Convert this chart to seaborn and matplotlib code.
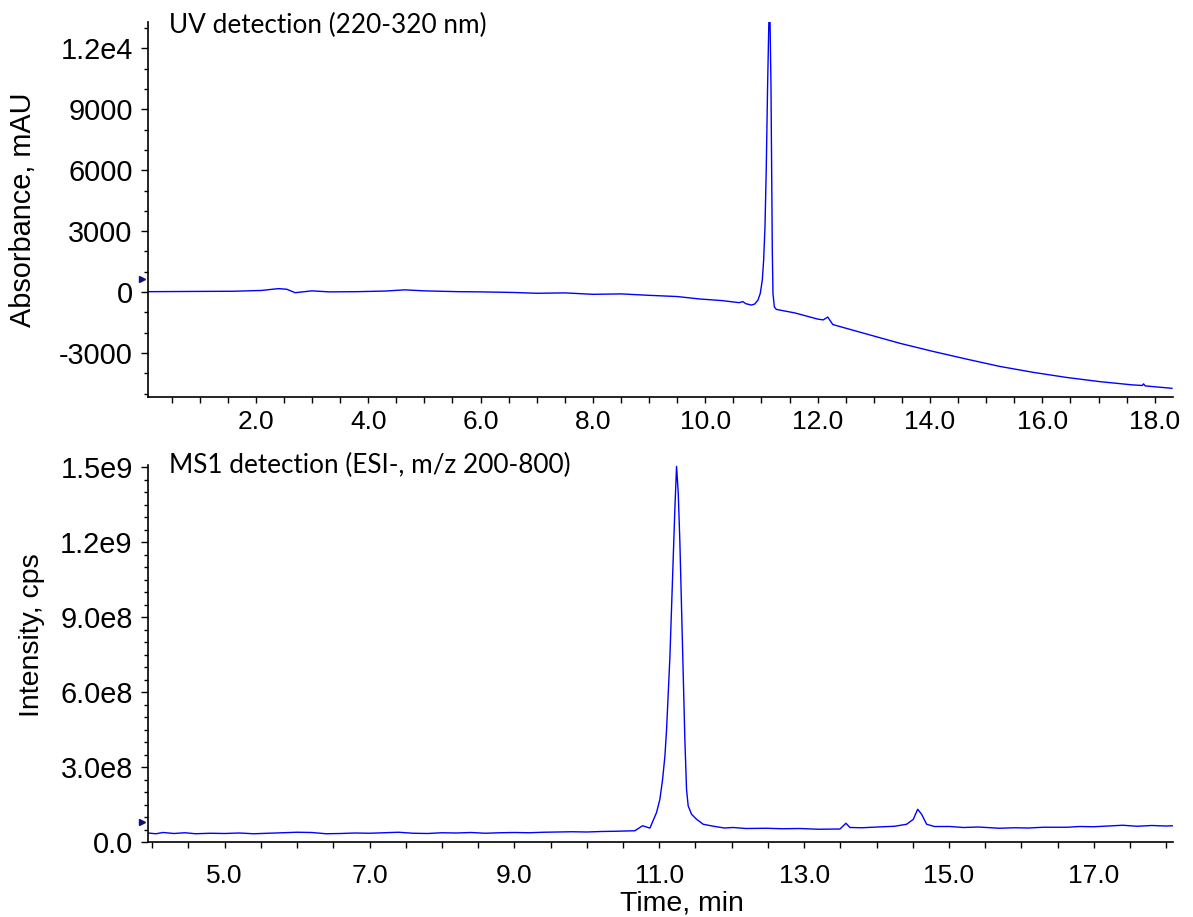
import numpy as np
import pandas as pd
import matplotlib
matplotlib.use("Agg")
import matplotlib.pyplot as plt
from matplotlib.ticker import FixedLocator, MultipleLocator
import seaborn as sns

sns.set_theme(style="ticks")
plt.rcParams["font.family"] = ["Liberation Sans", "DejaVu Sans"]
plt.rcParams["axes.unicode_minus"] = False
plt.rcParams["text.color"] = "black"
plt.rcParams["axes.labelcolor"] = "black"
plt.rcParams["xtick.color"] = "black"
plt.rcParams["ytick.color"] = "black"

# =====================================
# DATA
# =====================================
# UV trace: time (min) vs absorbance (mAU)
uv_time = [0.08, 0.8, 1.6, 2.1, 2.4, 2.55, 2.7, 3.0, 3.3, 3.8, 4.3, 4.65, 5.0,
           5.6, 6.0, 6.6, 7.0, 7.5, 8.0, 8.5, 9.0, 9.5, 9.9, 10.3, 10.6,
           10.67, 10.72, 10.82, 10.879, 10.938, 10.979, 11.015, 11.039,
           11.063, 11.086, 11.11, 11.134, 11.151, 11.169, 11.181, 11.193,
           11.205, 11.229, 11.264, 11.6, 12.0, 12.1, 12.18, 12.27,
           13.46, 14.05, 14.65, 15.24, 15.83, 16.42, 17.02, 17.6, 17.78,
           17.8, 17.83, 18.31]
uv_abs = [20, 30, 40, 80, 170, 140, -30, 60, 10, 20, 50, 110, 60,
          20, 10, -20, -60, -40, -110, -90, -160, -220, -340, -420, -520,
          -470, -570, -640, -590, -390, -66, 590, 1574,
          3215, 6166, 10266, 13600, 13600, 10266, 6166, 2050,
          -66, -722, -853, -1030, -1330, -1370, -1230, -1600,
          -2520, -2920, -3300, -3660, -3950, -4200, -4410, -4570, -4600,
          -4520, -4620, -4740]

# MS1 trace: time (min) vs intensity (cps)
ms_time = [3.94, 4.05, 4.15, 4.3, 4.45, 4.6, 4.8, 5.0, 5.2, 5.4, 5.6, 5.8,
           6.0, 6.2, 6.4, 6.6, 6.8, 7.0, 7.2, 7.4, 7.6, 7.8, 8.0, 8.2, 8.4,
           8.6, 8.8, 9.0, 9.2, 9.4, 9.6, 9.8, 10.0, 10.2, 10.4, 10.663,
           10.77, 10.871, 10.963, 11.009, 11.046, 11.078, 11.101, 11.124,
           11.147, 11.17, 11.193, 11.216, 11.239, 11.262, 11.285, 11.308,
           11.331, 11.354, 11.377, 11.40, 11.446, 11.515, 11.607, 11.75,
           11.9, 12.02, 12.2, 12.48, 12.7, 12.94, 13.2, 13.495, 13.578,
           13.633, 13.8, 14.09, 14.25, 14.416, 14.508, 14.568, 14.623,
           14.692, 14.8, 15.014, 15.2, 15.4, 15.7, 15.9, 16.1, 16.3, 16.63,
           16.8, 17.0, 17.2, 17.4, 17.6, 17.8, 18.0, 18.09]
ms_int = [3.6e7, 3.3e7, 3.8e7, 3.4e7, 3.7e7, 3.3e7, 3.5e7, 3.4e7, 3.6e7,
          3.3e7, 3.5e7, 3.7e7, 3.9e7, 3.8e7, 3.3e7, 3.4e7, 3.6e7, 3.5e7,
          3.7e7, 3.9e7, 3.5e7, 3.4e7, 3.7e7, 3.6e7, 3.8e7, 3.5e7, 3.7e7,
          3.8e7, 3.7e7, 3.9e7, 4.0e7, 4.1e7, 4.0e7, 4.2e7, 4.3e7, 4.5e7,
          6.5e7, 5.56e7, 1.18e8, 1.71e8, 2.50e8, 3.43e8, 4.49e8, 5.94e8,
          7.39e8, 9.38e8, 1.136e9, 1.335e9, 1.504e9, 1.40e9, 1.20e9, 9.38e8,
          6.73e8, 4.09e8, 2.10e8, 1.44e8, 1.11e8, 9.1e7, 7.1e7, 6.3e7,
          5.6e7, 5.8e7, 5.4e7, 5.5e7, 5.3e7, 5.4e7, 5.1e7, 5.2e7, 7.5e7,
          5.8e7, 5.7e7, 6.1e7, 6.3e7, 7.1e7, 9.1e7, 1.31e8, 1.11e8,
          7.1e7, 6.2e7, 6.2e7, 5.8e7, 6.0e7, 5.5e7, 5.7e7, 5.6e7, 5.9e7, 5.9e7,
          6.2e7, 6.1e7, 6.4e7, 6.7e7, 6.3e7, 6.6e7, 6.4e7, 6.5e7]

uv_yticks = [-3000, 0, 3000, 6000, 9000, 12000]
uv_ytick_labels = ["-3000", "0", "3000", "6000", "9000", "1.2e4"]
uv_xticks = [2.0, 4.0, 6.0, 8.0, 10.0, 12.0, 14.0, 16.0, 18.0]

ms_yticks = [0, 3e8, 6e8, 9e8, 1.2e9, 1.5e9]
ms_ytick_labels = ["0.0", "3.0e8", "6.0e8", "9.0e8", "1.2e9", "1.5e9"]
ms_xticks = [5.0, 7.0, 9.0, 11.0, 13.0, 15.0, 17.0]

uv_marker_level = 640
ms_marker_level = 8.0e7

uv = pd.DataFrame({"Time": uv_time, "Absorbance": uv_abs})
ms = pd.DataFrame({"Time": ms_time, "Intensity": ms_int})

# =====================================
# FIGURE
# =====================================
fig = plt.figure(figsize=(11.93, 9.17), dpi=100)
ax1 = fig.add_axes([0.124, 0.567, 0.859, 0.409])
ax2 = fig.add_axes([0.124, 0.0818, 0.859, 0.4112])

line_color = "#0000ff"

sns.lineplot(data=uv, x="Time", y="Absorbance", ax=ax1,
             color=line_color, linewidth=1.0, estimator=None, sort=False)
sns.lineplot(data=ms, x="Time", y="Intensity", ax=ax2,
             color=line_color, linewidth=1.0, estimator=None, sort=False)

ax1.set_xlim(0.08, 18.32)
ax1.set_ylim(-5170, 13300)
ax2.set_xlim(3.94, 18.09)
ax2.set_ylim(0, 1.51e9)

for ax in (ax1, ax2):
    sns.despine(ax=ax)
    ax.spines["left"].set_linewidth(1.2)
    ax.spines["bottom"].set_linewidth(1.2)
    ax.spines["left"].set_color("black")
    ax.spines["bottom"].set_color("black")
    ax.tick_params(axis="both", which="both", direction="out",
                   color="black", width=1.0)
    ax.tick_params(axis="y", which="major", length=5, labelsize=20.8, pad=6)
    ax.tick_params(axis="y", which="minor", length=3)
    ax.tick_params(axis="x", which="major", length=4, labelsize=19)
    ax.tick_params(axis="x", which="minor", length=4)
    ax.xaxis.set_minor_locator(MultipleLocator(0.5))
    ax.set_xlabel("")
    ax.set_ylabel("")

ax1.tick_params(axis="x", which="major", pad=5)
ax2.tick_params(axis="x", which="major", pad=12)

ax1.yaxis.set_major_locator(FixedLocator(uv_yticks))
ax1.set_yticklabels(uv_ytick_labels)
ax1.yaxis.set_minor_locator(MultipleLocator(1000))
ax1.xaxis.set_major_locator(FixedLocator(uv_xticks))
ax1.set_xticklabels([f"{v:.1f}" for v in uv_xticks])

ax2.yaxis.set_major_locator(FixedLocator(ms_yticks))
ax2.set_yticklabels(ms_ytick_labels)
ax2.yaxis.set_minor_locator(MultipleLocator(5e7))
ax2.xaxis.set_major_locator(FixedLocator(ms_xticks))
ax2.set_xticklabels([f"{v:.1f}" for v in ms_xticks])

ax1.set_ylabel("Absorbance, mAU", fontsize=20.8)
ax1.yaxis.set_label_coords(-0.108, 0.5)
ax2.set_ylabel("Intensity, cps", fontsize=20.5)
ax2.yaxis.set_label_coords(-0.100, 0.549)
ax2.set_xlabel("Time, min", fontsize=20.5)
ax2.xaxis.set_label_coords(0.521, -0.128)

# small level markers left of the y axis
ax1.plot([-0.006], [uv_marker_level], marker=">", color="#101080",
         markersize=5, transform=ax1.get_yaxis_transform(), clip_on=False)
ax2.plot([-0.006], [ms_marker_level], marker=">", color="#101080",
         markersize=5, transform=ax2.get_yaxis_transform(), clip_on=False)

ax1.text(0.0205, 0.971, "UV detection (220-320 nm)", transform=ax1.transAxes,
         fontsize=18.8, family=["Lato", "DejaVu Sans"], va="baseline", ha="left")
ax2.text(0.0205, 0.979, "MS1 detection (ESI-, m/z 200-800)", transform=ax2.transAxes,
         fontsize=18.8, family=["Lato", "DejaVu Sans"], va="baseline", ha="left")

fig.savefig("out.png", dpi=100)
